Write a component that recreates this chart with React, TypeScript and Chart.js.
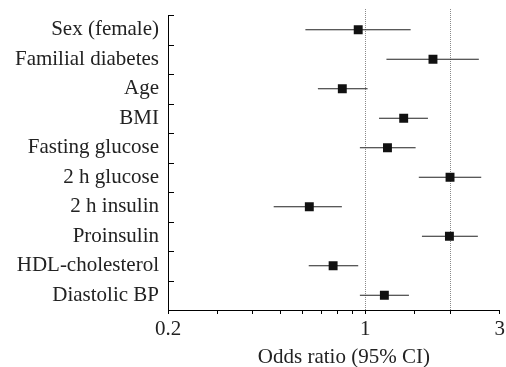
import React, { useEffect, useRef } from 'react';
import { Chart, registerables } from 'chart.js';

Chart.register(...registerables);

const labels = [
  'Sex (female)',
  'Familial diabetes',
  'Age',
  'BMI',
  'Fasting glucose',
  '2 h glucose',
  '2 h insulin',
  'Proinsulin',
  'HDL-cholesterol',
  'Diastolic BP',
];
const oddsRatio = [0.945, 1.74, 0.83, 1.37, 1.2, 2.0, 0.634, 1.99, 0.77, 1.17];
const lowerCI = [0.614, 1.19, 0.68, 1.12, 0.958, 1.55, 0.474, 1.59, 0.631, 0.958];
const upperCI = [1.45, 2.53, 1.02, 1.67, 1.51, 2.58, 0.827, 2.51, 0.945, 1.43];
const xTickLabels = [0.2, 1, 3];
const referenceLines = [1, 2];
const xTitle = 'Odds ratio (95% CI)';

const FONT = '"Liberation Serif", "Times New Roman", serif';
const FONT_SIZE = 21;

const overlay = {
  id: 'overlay',
  beforeDatasetsDraw(chart: any) {
    const { ctx, chartArea, scales } = chart;
    const x = scales.x;
    const y = scales.y;
    ctx.save();
    ctx.lineWidth = 1;
    ctx.strokeStyle = '#8a8a8a';
    ctx.setLineDash([1, 1]);
    referenceLines.forEach((v) => {
      const px = Math.round(x.getPixelForValue(v)) + 0.5;
      ctx.beginPath();
      ctx.moveTo(px, chartArea.top - 6);
      ctx.lineTo(px, chartArea.bottom);
      ctx.stroke();
    });
    ctx.setLineDash([]);
    ctx.strokeStyle = '#000';
    for (let i = 0; i <= labels.length; i++) {
      const py = Math.round(y.getPixelForValue(i - 0.5)) + 0.5;
      ctx.beginPath();
      ctx.moveTo(chartArea.left, py);
      ctx.lineTo(chartArea.left + 6, py);
      ctx.stroke();
    }
    ctx.restore();
  },
  afterDraw(chart: any) {
    const { ctx, scales } = chart;
    const x = scales.x;
    ctx.save();
    ctx.fillStyle = '#222';
    ctx.font = `${FONT_SIZE}px ${FONT}`;
    ctx.textAlign = 'center';
    ctx.textBaseline = 'alphabetic';
    ctx.fillText(xTitle, (x.left + x.right) / 2 + 10, x.bottom - 4);
    ctx.restore();
  },
};

const noPad = (s: any) => {
  s.paddingTop = 0;
  s.paddingBottom = 0;
  s.paddingLeft = 0;
  s.paddingRight = 0;
};

export default function App() {
  const ref = useRef<HTMLCanvasElement | null>(null);

  useEffect(() => {
    if (!ref.current) return;
    const ciSets = labels.map((lab, i) => ({
      type: 'scatter' as const,
      data: [
        { x: lowerCI[i], y: lab },
        { x: upperCI[i], y: lab },
      ],
      showLine: true,
      borderColor: '#222',
      borderWidth: 1.2,
      pointRadius: 0,
      order: 2,
    }));
    const chart = new Chart(ref.current, {
      type: 'scatter',
      data: {
        labels,
        datasets: [
          ...ciSets,
          {
            type: 'scatter' as const,
            data: labels.map((lab, i) => ({ x: oddsRatio[i], y: lab })),
            pointStyle: 'rect',
            pointRadius: 6.3,
            backgroundColor: '#111',
            borderColor: '#111',
            borderWidth: 0,
            order: 1,
          } as any,
        ],
      },
      options: {
        animation: false,
        responsive: false,
        layout: { padding: { left: 0, right: 5, top: 15, bottom: 0 } },
        plugins: { legend: { display: false }, tooltip: { enabled: false } },
        scales: {
          x: {
            type: 'logarithmic',
            position: 'bottom',
            min: 0.2,
            max: 3,
            grid: { drawOnChartArea: false, tickLength: 4, color: '#000' },
            border: { color: '#000', width: 1 },
            ticks: {
              autoSkip: false,
              maxRotation: 0,
              padding: 3,
              color: '#222',
              font: { family: FONT, size: FONT_SIZE },
              callback: (v: any) => {
                const n = Number(v);
                const hit = xTickLabels.find((t) => Math.abs(t - n) < 1e-6);
                return hit !== undefined ? String(hit) : '';
              },
            },
            afterFit: (s: any) => {
              s.height = 57;
              noPad(s);
            },
          },
          y: {
            type: 'category',
            labels,
            offset: true,
            grid: { offset: true, drawOnChartArea: false, drawTicks: false },
            border: { color: '#000', width: 1 },
            ticks: {
              padding: 9,
              color: '#222',
              font: { family: FONT, size: FONT_SIZE },
            },
            afterFit: (s: any) => {
              s.width = 168;
              noPad(s);
            },
          },
        },
      },
      plugins: [overlay],
    } as any);
    return () => chart.destroy();
  }, []);

  return (
    <div style={{ position: 'absolute', left: 0, top: 0, width: 506, height: 367 }}>
      <canvas ref={ref} width={506} height={367} style={{ display: 'block' }} />
    </div>
  );
}
